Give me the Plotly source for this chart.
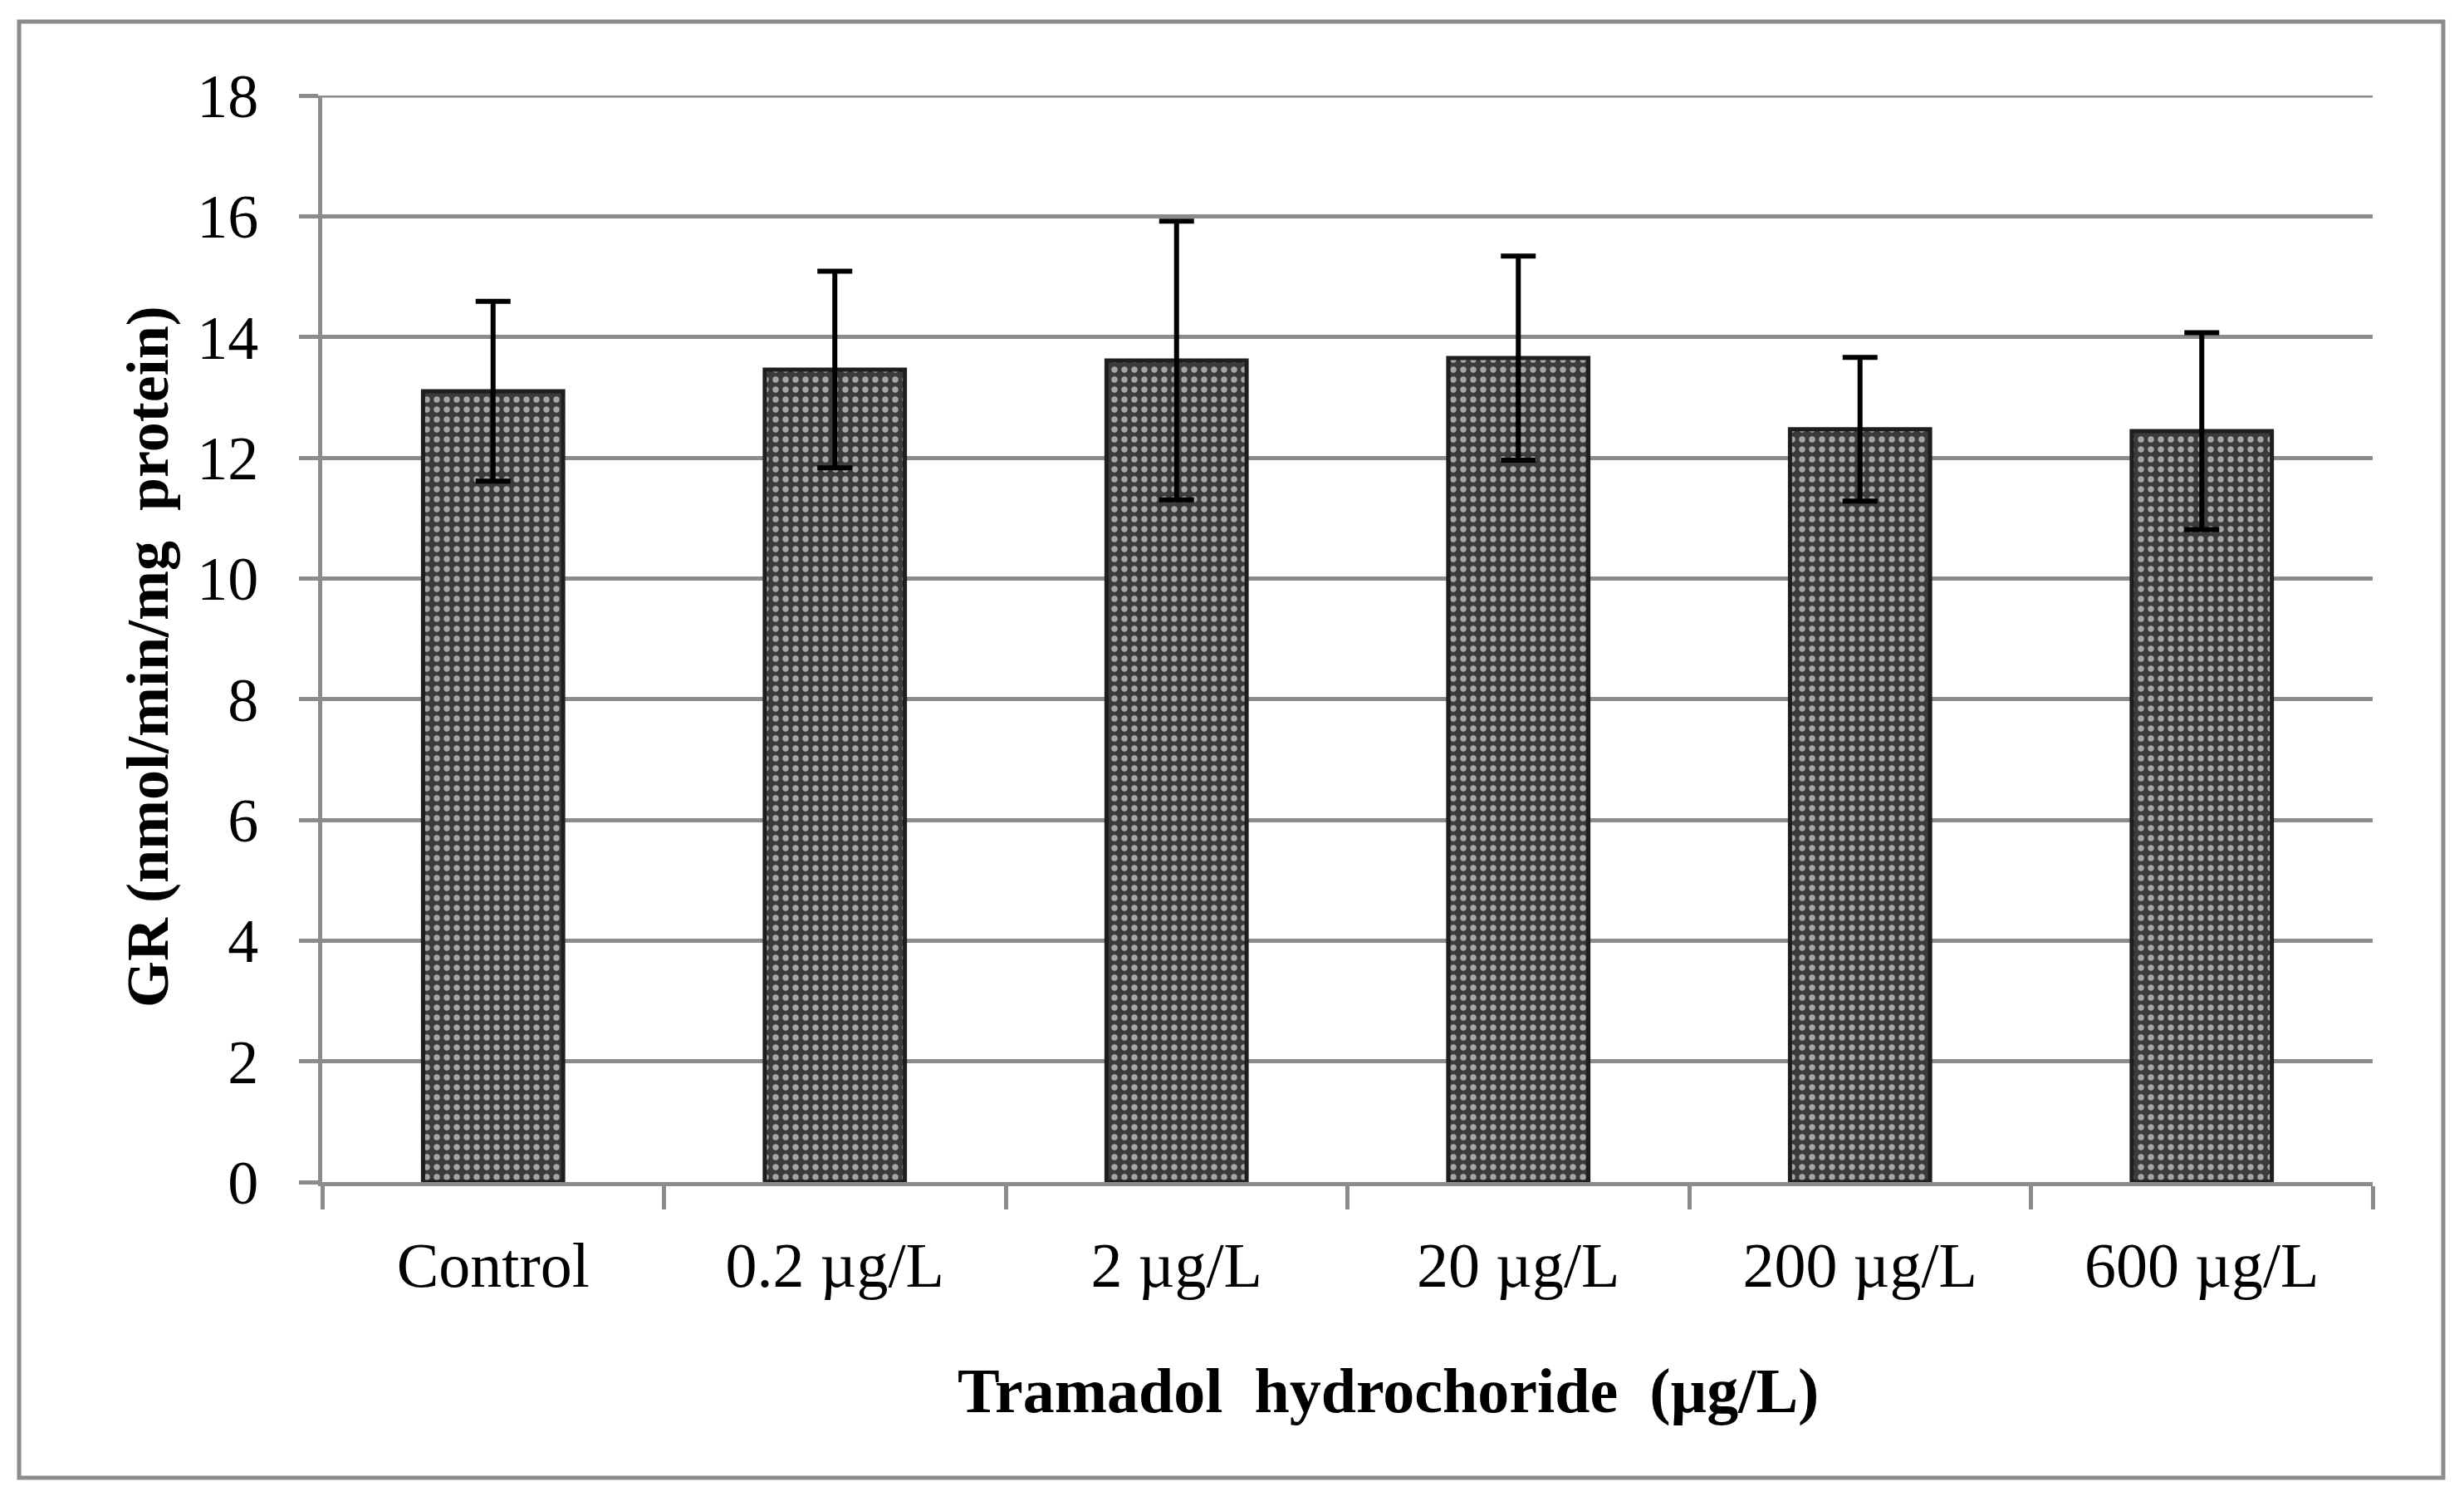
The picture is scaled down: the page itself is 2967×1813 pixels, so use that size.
import plotly.graph_objects as go

categories = ["Control", "0.2 µg/L", "2 µg/L", "20 µg/L", "200 µg/L", "600 µg/L"]
means = [13.1, 13.46, 13.61, 13.65, 12.47, 12.44]
errors = [1.49, 1.63, 2.31, 1.69, 1.19, 1.63]
y_ticks = [0, 2, 4, 6, 8, 10, 12, 14, 16, 18]

GRID = "#8c8c8c"
FONT = "Liberation Serif"

W, H = 2967, 1813
L, R, T, B = 388, 110, 115, 390
pw, ph = W - L - R, H - T - B

def px_x(x):
    return (x - L) / pw

def px_y(y):
    return (H - B - y) / ph

fig = go.Figure()
fig.add_trace(go.Bar(
    x=categories,
    y=means,
    width=0.41,
    marker=dict(
        color="#3b3b3b",
        line=dict(color="#1e1e1e", width=5),
        pattern=dict(shape=".", fgcolor="#a6a6a6", bgcolor="#3b3b3b",
                     size=12, solidity=0.3, fillmode="replace"),
    ),
    error_y=dict(type="data", array=errors, visible=True,
                 color="#000000", thickness=6, width=21),
))

fig.update_layout(
    width=W, height=H,
    margin=dict(l=L, r=R, t=T, b=B),
    paper_bgcolor="white",
    plot_bgcolor="white",
    showlegend=False,
    bargap=0.59,
    font=dict(family=FONT, color="black"),
    xaxis=dict(
        showline=True, linecolor=GRID, linewidth=5,
        ticks="outside", tickson="boundaries", ticklen=28,
        tickwidth=5, tickcolor=GRID,
        tickfont=dict(family=FONT, size=76, color="black"),
        ticklabelstandoff=30,
        showgrid=False,
    ),
    yaxis=dict(
        range=[0, 18], tickvals=y_ticks,
        showline=True, linecolor=GRID, linewidth=5,
        ticks="outside", ticklen=23, tickwidth=5, tickcolor=GRID,
        showgrid=True, gridcolor=GRID, gridwidth=5,
        zeroline=False,
        tickfont=dict(family=FONT, size=74, color="black"),
        ticklabelstandoff=34,
    ),
    shapes=[
        dict(
            type="rect", xref="paper", yref="paper",
            x0=px_x(23), x1=px_x(2942), y0=px_y(1779), y1=px_y(26),
            line=dict(color=GRID, width=5), fillcolor="rgba(0,0,0,0)",
            layer="below",
        ),
        dict(
            type="line", xref="paper", yref="y",
            x0=0, x1=1, y0=y_ticks[-1], y1=y_ticks[-1],
            line=dict(color=GRID, width=5), layer="below",
        ),
    ],
    annotations=[
        dict(text="<b>GR (nmol/min/mg  protein)</b>", xref="paper", yref="paper",
             x=px_x(178), y=px_y(791), textangle=-90, showarrow=False,
             xanchor="center", yanchor="middle",
             font=dict(family=FONT, size=72, color="black")),
        dict(text="<b>Tramadol  hydrochoride  (µg/L)</b>", xref="paper", yref="paper",
             x=px_x(1671), y=px_y(1674), showarrow=False,
             xanchor="center", yanchor="middle",
             font=dict(family=FONT, size=76, color="black")),
    ],
)

fig.write_html("out.html", config={"displayModeBar": False},
               post_script="document.body.style.margin='0';")
